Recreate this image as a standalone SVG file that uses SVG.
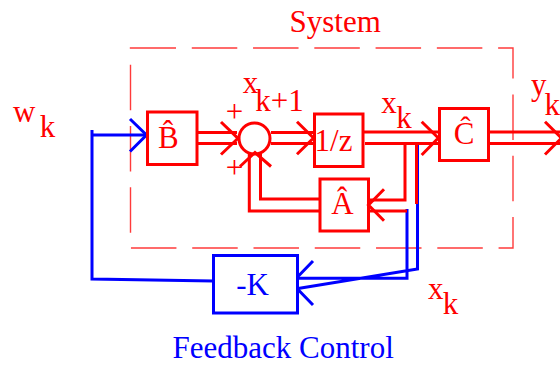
<svg xmlns="http://www.w3.org/2000/svg" width="560" height="368" viewBox="0 0 560 368">
<style>
text{font-family:"Liberation Serif","Times New Roman",serif;font-size:31px}
.r{fill:#ff0000}
.b{fill:#0000ff}
.m{text-anchor:middle}
.box{fill:none;stroke:#ff0000;stroke-width:3}
.bbox{fill:none;stroke:#0000ff;stroke-width:3}
.rl{fill:none;stroke:#ff0000;stroke-width:3;stroke-linejoin:miter}
.bl{fill:none;stroke:#0000ff;stroke-width:3}
.dash{fill:none;stroke:#ff3b3b;stroke-width:1.4;stroke-dasharray:45.5 15.77}
</style>
<rect width="560" height="368" fill="#ffffff"/>
<g id="system-boundary">
<path class="dash" d="M130.5,48 H513 V248 H130.5 Z"/>
<text class="r" x="289.5" y="31.5">System</text>
</g>
<g id="connectors">
<path class="bl" d="M213.5,281 L92,279 V130 M92,135 H146"/>
<path class="bl" d="M130,119 L146.5,135 L130,151.5"/>
<path class="bl" d="M407,209 V278.3 H298 M417.5,143 V269 L298,288.5"/>
<path class="bl" d="M313,261 L298,276.5 M313,305 L298,289.5"/>
<path class="rl" d="M197,132.5 H237 M197,143.5 H237"/>
<path class="rl" d="M221,122 L238,138.3 L221,154.5"/>
<path class="rl" d="M271,132.5 H313 M271,143.5 H313"/>
<path class="rl" d="M297,121.7 L313.5,138 L297,154.3"/>
<path class="rl" d="M363,132 H438 M365,143.5 H438"/>
<path class="rl" d="M421.7,121.7 L438.3,138 L421.7,155"/>
<path class="rl" d="M489,132 H560 M489,143.5 H560"/>
<path class="rl" d="M545,121.7 L561.5,138 L545,154.5"/>
<path class="rl" d="M405,143.5 V200 H369 M407,211 H369 M416.5,143.5 V204"/>
<path class="rl" d="M384,189.3 L368.5,205 L384,220.7"/>
<path class="rl" d="M320,199 H260.5 V153 M320,211 H249.3 V153"/>
<path class="rl" d="M240,166.5 L255,152.5 L271,166.5"/>
</g>
<g id="sum">
<circle cx="254.5" cy="138.5" r="15.5" fill="none" stroke="#ff0000" stroke-width="3"/>
<text class="r m" x="234.5" y="121.7">+</text>
<text class="r m" x="234.5" y="178.3">+</text>
</g>
<g id="B">
<rect class="box" x="147.5" y="112" width="49.5" height="52.5"/>
<text class="r m" x="168.4" y="148">B̂</text>
</g>
<g id="delay">
<rect class="box" x="314.5" y="114" width="48.5" height="52.5"/>
<text class="r m" x="333.5" y="151">1/z</text>
</g>
<g id="C">
<rect class="box" x="439.5" y="108.5" width="49" height="52"/>
<text class="r m" x="464" y="144">Ĉ</text>
</g>
<g id="A">
<rect class="box" x="320" y="179" width="48.5" height="52"/>
<text class="r m" x="342.5" y="213.5">Â</text>
</g>
<g id="K">
<rect class="bbox" x="213.5" y="255.5" width="84" height="57.5"/>
<text class="b m" x="252.5" y="295">-K</text>
</g>
<g id="labels">
<text class="r" x="13" y="121.7">w<tspan x="39.8" y="136.7">k</tspan></text>
<text class="r" x="242.8" y="93">x<tspan x="255.3" y="111">k+1</tspan></text>
<text class="r" x="381.3" y="113.3">x<tspan x="396.3" y="127.5">k</tspan></text>
<text class="r" x="531" y="95">y<tspan x="544.5" y="115">k</tspan></text>
<text class="r" x="428" y="298.5">x<tspan x="442.8" y="313.5">k</tspan></text>
<text class="b" x="172.5" y="358">Feedback Control</text>
</g>
</svg>
